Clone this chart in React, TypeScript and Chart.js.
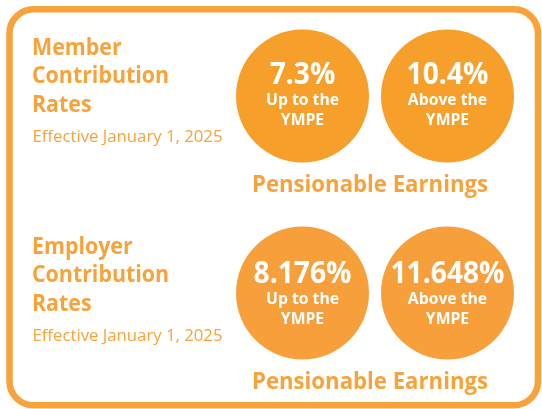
import React, { useEffect, useRef } from "react";
import { Chart, registerables } from "chart.js";

Chart.register(...registerables);

// ---- data ----
const rowTitles: string[][] = [
  ["Member", "Contribution", "Rates"],
  ["Employer", "Contribution", "Rates"],
];
const effectiveDates: string[] = ["Effective January 1, 2025", "Effective January 1, 2025"];
const columnLabels: string[][] = [
  ["Up to the", "YMPE"],
  ["Above the", "YMPE"],
];
const upToYmpeRates: number[] = [7.3, 8.176];
const aboveYmpeRates: number[] = [10.4, 11.648];
const footerLabel = "Pensionable Earnings";

const rowColors = ["#F6A02B", "#F7A03B"];
const textColor = "#F7A33B";
const FONT = "'Open Sans', Lato, sans-serif";

type Style = { font: string; ref: string; width: number };
const STYLES: Record<string, Style> = {
  title: { font: `bold 23.5px ${FONT}`, ref: "Contribution", width: 137 },
  date: { font: `16.5px ${FONT}`, ref: "Effective January 1, 2025", width: 190 },
  value: { font: `bold 29.5px ${FONT}`, ref: "11.648%", width: 114 },
  sub: { font: `bold 15.5px ${FONT}`, ref: "Up to the", width: 73 },
  footer: { font: `bold 23.5px ${FONT}`, ref: "Pensionable Earnings", width: 236 },
};

function drawText(
  ctx: CanvasRenderingContext2D,
  styleKey: string,
  text: string,
  x: number,
  y: number,
  align: CanvasTextAlign,
  color: string
) {
  const st = STYLES[styleKey];
  ctx.save();
  ctx.font = st.font;
  const sx = st.width / ctx.measureText(st.ref).width;
  ctx.fillStyle = color;
  ctx.textAlign = align;
  ctx.textBaseline = "alphabetic";
  ctx.translate(x, y);
  ctx.scale(sx, 1);
  ctx.fillText(text, 0, 0);
  ctx.restore();
}

const rowTextShift = [0, 2.5];

const infographicPlugin = {
  id: "infographic",
  beforeDraw(chart: any) {
    const ctx = chart.ctx as CanvasRenderingContext2D;
    ctx.save();
    ctx.fillStyle = "#ffffff";
    ctx.fillRect(0, 0, chart.width, chart.height);
    ctx.strokeStyle = "#F8A23C";
    ctx.lineWidth = 6.5;
    ctx.beginPath();
    (ctx as any).roundRect(9.5, 9.3, 528.5, 396, 24);
    ctx.stroke();
    ctx.restore();
  },
  afterDatasetsDraw(chart: any) {
    const ctx = chart.ctx as CanvasRenderingContext2D;
    const xs = chart.scales.x;
    const ys = chart.scales.y;
    rowTitles.forEach((lines, r) => {
      const cy = ys.getPixelForValue(r);
      const s = rowTextShift[r];
      lines.forEach((t, i) => {
        drawText(ctx, "title", t, 32, cy + s - 41.5 + i * 28.5, "left", textColor);
      });
      drawText(ctx, "date", effectiveDates[r], 32.5, cy + s + 45.5, "left", textColor);
      const vals = [upToYmpeRates[r], aboveYmpeRates[r]];
      vals.forEach((v, c) => {
        const cx = xs.getPixelForValue(c);
        drawText(ctx, "value", `${v}%`, cx, cy + s - 12.5, "center", "#ffffff");
        drawText(ctx, "sub", columnLabels[c][0], cx, cy + s + 8.5, "center", "#ffffff");
        drawText(ctx, "sub", columnLabels[c][1], cx, cy + s + 28.5, "center", "#ffffff");
      });
      const mid = (xs.getPixelForValue(0) + xs.getPixelForValue(1)) / 2 - 5;
      drawText(ctx, "footer", footerLabel, mid, cy + 96, "center", textColor);
    });
  },
};

export default function App() {
  const ref = useRef<HTMLCanvasElement | null>(null);
  useEffect(() => {
    if (!ref.current) return;
    const datasets = rowTitles.map((_, r) => ({
      label: rowTitles[r][0],
      data: [upToYmpeRates[r], aboveYmpeRates[r]].map((_v, c) => ({ x: c, y: r })),
      pointRadius: 66.5,
      pointHoverRadius: 66.5,
      backgroundColor: rowColors[r],
      borderWidth: 0,
      clip: false as any,
    }));
    // column centres at 302.5 / 447.5 px, row centres at 96.5 / 294.5 px
    const chart = new Chart(ref.current, {
      type: "scatter",
      data: { datasets },
      options: {
        responsive: false,
        animation: false,
        events: [],
        layout: { autoPadding: false, padding: { left: 230, right: 22, top: 7.4, bottom: 17.6 } },
        plugins: { legend: { display: false }, tooltip: { enabled: false } },
        scales: {
          x: { type: "linear", min: -0.5, max: 1.5, display: false },
          y: { type: "linear", min: -0.45, max: 1.5, reverse: true, display: false },
        },
      },
      plugins: [infographicPlugin],
    });
    return () => chart.destroy();
  }, []);
  return (
    <div style={{ position: "fixed", left: 0, top: 0, width: 542, height: 409 }}>
      <canvas ref={ref} width={542} height={409} style={{ display: "block" }} />
    </div>
  );
}
